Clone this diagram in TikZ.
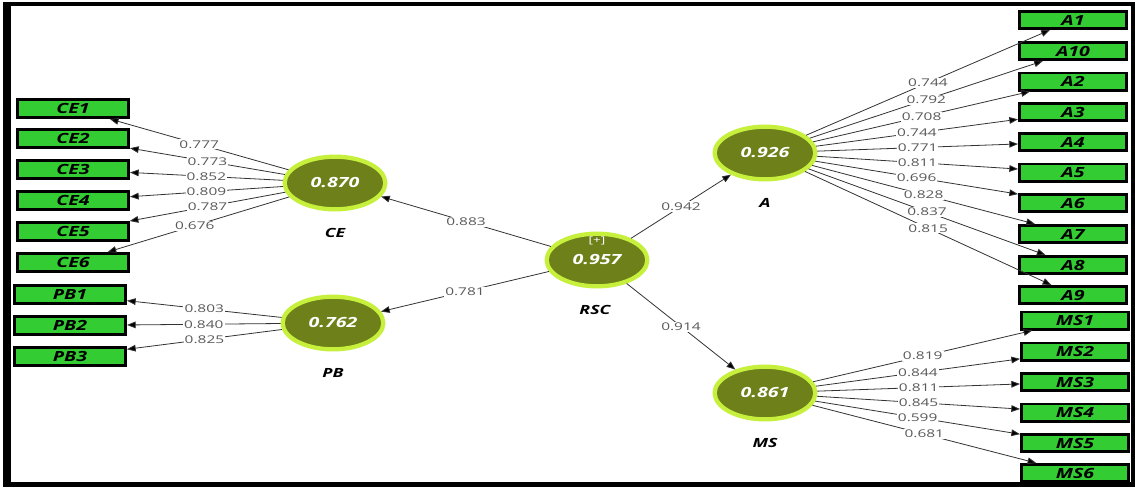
\documentclass[tikz,border=0pt]{standalone}
\usepackage{fontspec}
\usetikzlibrary{shapes.geometric,arrows.meta}
\newfontfamily\lblfont[FakeStretch=1.45]{Open Sans}
\newfontfamily\bifont[FakeStretch=1.4]{Open Sans}
\definecolor{boxgreen}{HTML}{33CC33}
\definecolor{lvolive}{HTML}{6E8019}
\definecolor{ringgreen}{HTML}{C6F03C}
\definecolor{lblgray}{HTML}{5A5A5A}
\definecolor{edgegray}{HTML}{333333}
\begin{document}
\begin{tikzpicture}[x=0.75pt,y=-0.75pt,
 lv/.style={ellipse, fill=lvolive, draw=ringgreen, line width=3.2pt, minimum width=75.5pt, minimum height=39.5pt, inner sep=0pt, text=white, font=\bifont\bfseries\itshape\fontsize{10.5}{12}\selectfont},
 ind/.style={rectangle, fill=boxgreen, draw=black, line width=2pt, minimum width=83.5pt, minimum height=13.75pt, inner sep=0pt, font=\bifont\bfseries\itshape\fontsize{10.5}{11}\selectfont, text=black},
 indr/.style={ind, minimum width=80.5pt, minimum height=13pt},
 lvname/.style={font=\bifont\bfseries\itshape\fontsize{9.5}{11}\selectfont, inner sep=0pt},
 ld/.style={draw=edgegray, line width=0.6pt, -{Triangle[length=6.5pt,width=5pt,fill=black]}},
 w/.style={fill=white, inner sep=0.8pt, text=lblgray, font=\lblfont\fontsize{8}{9}\selectfont, pos=0.5}]
\useasboundingbox (0,0) rectangle (1135,487);
\fill[white] (0,0) rectangle (1135,487);
% frame
\fill[black] (3,2) rectangle (11,487);
\fill[black] (3,2) rectangle (1135,6);
\fill[black] (1131,2) rectangle (1135,487);
\fill[black] (3,482) rectangle (1135,487);

% latent variables
\node[lv] (RSC) at (597,260) {0.957};
\node[text=white, font=\lblfont\fontsize{7}{7}\selectfont, inner sep=0pt] (rscplus) at (597,241) {[+]};
\node[lv] (CE) at (335,183) {0.870};
\node[lv] (PB) at (333,323) {0.762};
\node[lv] (A) at (765,153) {0.926};
\node[lv] (MS) at (765,393) {0.861};
\node[lvname] (nRSC) at (595,310) {RSC};
\node[lvname] (nCE) at (335,233) {CE};
\node[lvname] (nPB) at (333,373) {PB};
\node[lvname] (nA) at (765,203) {A};
\node[lvname] (nMS) at (765,443) {MS};

% left indicators
\node[ind] (CE1) at (73,108.5) {CE1};
\node[ind] (CE2) at (73,138.5) {CE2};
\node[ind] (CE3) at (73,169.5) {CE3};
\node[ind] (CE4) at (73,200.5) {CE4};
\node[ind] (CE5) at (73,231.5) {CE5};
\node[ind] (CE6) at (73,262.5) {CE6};
\node[ind] (PB1) at (70,294.5) {PB1};
\node[ind] (PB2) at (70,325.5) {PB2};
\node[ind] (PB3) at (70,356.5) {PB3};

% right indicators
\node[indr] (A1) at (1073,20) {A1};
\node[indr] (A10) at (1073,51) {A10};
\node[indr] (A2) at (1073,81.5) {A2};
\node[indr] (A3) at (1073,112) {A3};
\node[indr] (A4) at (1073,142) {A4};
\node[indr] (A5) at (1073,172.5) {A5};
\node[indr] (A6) at (1073,203) {A6};
\node[indr] (A7) at (1073,234) {A7};
\node[indr] (A8) at (1073,265) {A8};
\node[indr] (A9) at (1073,295) {A9};
\node[indr] (MS1) at (1075,320.5) {MS1};
\node[indr] (MS2) at (1075,351.5) {MS2};
\node[indr] (MS3) at (1075,382) {MS3};
\node[indr] (MS4) at (1075,412.5) {MS4};
\node[indr] (MS5) at (1075,443) {MS5};
\node[indr] (MS6) at (1075,473) {MS6};

% structural paths
\draw[ld] (RSC) -- node[w]{0.883} (CE);
\draw[ld] (RSC) -- node[w]{0.781} (PB);
\draw[ld] (RSC) -- node[w]{0.942} (A);
\draw[ld] (RSC) -- node[w]{0.914} (MS);

% CE loadings
\draw[ld] (CE) -- node[w]{0.777} (CE1);
\draw[ld] (CE) -- node[w]{0.773} (CE2);
\draw[ld] (CE) -- node[w]{0.852} (CE3);
\draw[ld] (CE) -- node[w]{0.809} (CE4);
\draw[ld] (CE) -- node[w]{0.787} (CE5);
\draw[ld] (CE) -- node[w, pos=0.52]{0.676} (CE6);

% PB loadings
\draw[ld] (PB) -- node[w]{0.803} (PB1);
\draw[ld] (PB) -- node[w]{0.840} (PB2);
\draw[ld] (PB) -- node[w]{0.825} (PB3);

% A loadings
\draw[ld] (A) -- node[w]{0.744} (A1);
\draw[ld] (A) -- node[w]{0.792} (A10);
\draw[ld] (A) -- node[w]{0.708} (A2);
\draw[ld] (A) -- node[w]{0.744} (A3);
\draw[ld] (A) -- node[w]{0.771} (A4);
\draw[ld] (A) -- node[w]{0.811} (A5);
\draw[ld] (A) -- node[w]{0.696} (A6);
\draw[ld] (A) -- node[w]{0.828} (A7);
\draw[ld] (A) -- node[w]{0.837} (A8);
\draw[ld] (A) -- node[w]{0.815} (A9);

% MS loadings
\draw[ld] (MS) -- node[w]{0.819} (MS1);
\draw[ld] (MS) -- node[w]{0.844} (MS2);
\draw[ld] (MS) -- node[w]{0.811} (MS3);
\draw[ld] (MS) -- node[w]{0.845} (MS4);
\draw[ld] (MS) -- node[w]{0.599} (MS5);
\draw[ld] (MS) -- node[w]{0.681} (MS6);
\end{tikzpicture}
\end{document}
